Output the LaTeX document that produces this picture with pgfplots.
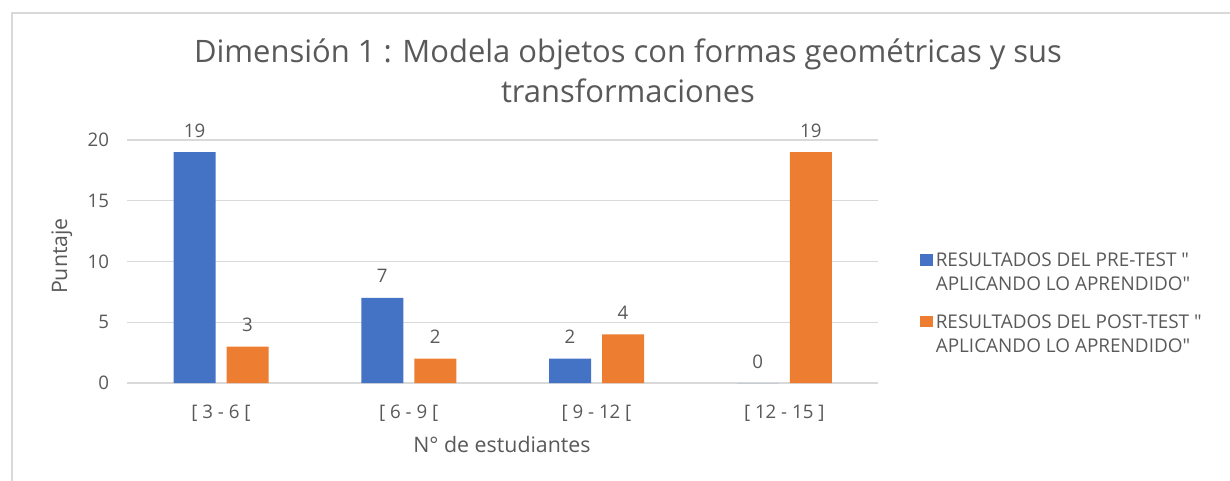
\documentclass[border=0pt]{standalone}
\usepackage{pgfplots}
\pgfplotsset{compat=1.18}
\usepackage{fontspec}
\setmainfont{Open Sans}[Ligatures=TeXOff]
\definecolor{txt}{HTML}{595959}
\definecolor{gridc}{HTML}{D9D9D9}
\definecolor{cblue}{HTML}{4472C4}
\definecolor{corange}{HTML}{ED7D31}
\begin{document}
\begin{tikzpicture}[x=0.75pt,y=-0.75pt]
\useasboundingbox (0,0) rectangle (1230,481);
\draw[gridc, line width=1.5pt] (11.5,490) -- (11.5,13) -- (1240,13);
\begin{axis}[
  at={(165.75pt,-287.25pt)}, anchor=origin,
  scale only axis, width=563.25pt, height=182.25pt,
  ybar=8.25pt, bar width=31.5pt,
  xmin=-0.5, xmax=3.5, ymin=0, ymax=20,
  xtick={0,1,2,3},
  xticklabels={{[ 3 - 6 [},{[ 6 - 9 [},{[ 9 - 12 [},{[ 12 - 15 ]}},
  ytick={0,5,10,15,20},
  major tick length=0pt,
  axis x line*=bottom, axis y line*=left,
  x axis line style={gridc, line width=1.5pt},
  y axis line style={draw=none},
  ymajorgrids, grid style={gridc, line width=1pt},
  /pgf/number format/assume math mode=true,
  tick label style={font=\fontsize{14}{17}\selectfont, text=txt},
  xticklabel style={anchor=base, yshift=-26.25pt},
  yticklabel style={xshift=-10pt},
  nodes near coords,
  nodes near coords style={font=\fontsize{14}{17}\selectfont, text=txt, anchor=base, yshift=11.25pt},
  legend style={at={(1.056,0.547)}, anchor=north west, draw=none, fill=none,
    font=\fontsize{14.2}{18}\selectfont, text=txt, inner sep=0pt,
    row sep=12.5pt, nodes={align=left, inner sep=2pt}},
  legend cell align=left,
  legend image code/.code={\fill[#1] (0pt,5.5pt) rectangle (9.5pt,14pt);},
  clip=false,
]
\addplot[fill=cblue, draw=none] coordinates {(0,19) (1,7) (2,2) (3,0)};
\addplot[fill=corange, draw=none] coordinates {(0,3) (1,2) (2,4) (3,19)};
\legend{{RESULTADOS DEL PRE-TEST "\\APLICANDO LO APRENDIDO"},{RESULTADOS DEL POST-TEST "\\APLICANDO LO APRENDIDO"}}
\end{axis}
\node[anchor=base, text=txt, font=\fontsize{23.2}{27}\selectfont] at (628,63) {Dimensión 1 : Modela objetos con formas geométricas y sus};
\node[anchor=base, text=txt, font=\fontsize{23.2}{27}\selectfont] at (628,103) {transformaciones};
\node[anchor=base, text=txt, font=\fontsize{16}{19}\selectfont] at (502,452) {N° de estudiantes};
\node[anchor=base, rotate=90, text=txt, font=\fontsize{16}{19}\selectfont] at (67,256) {Puntaje};
\end{tikzpicture}
\end{document}
